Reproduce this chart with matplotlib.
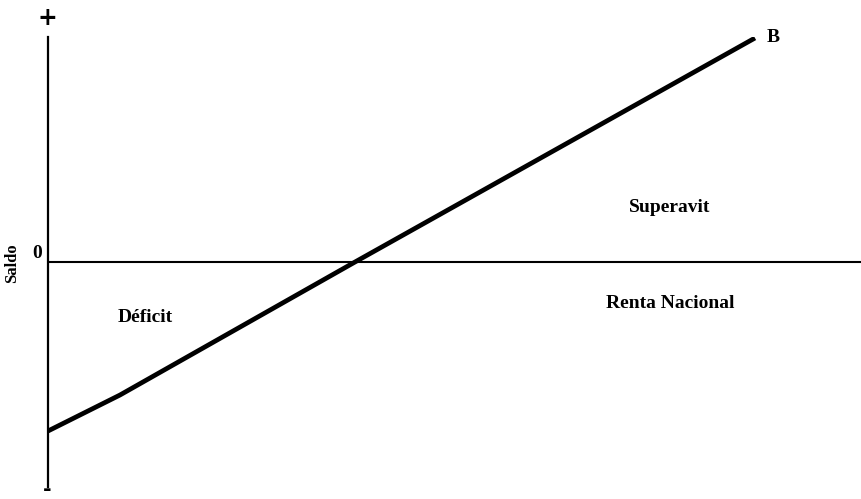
import matplotlib.pyplot as plt

# Curve B: renta nacional vs saldo (arbitrary units)
renta = [0, 72, 307, 707]
saldo = [-169, -133, 0, 224]

labels_region = ['Superavit', 'Renta Nacional', 'Déficit']

W, H = 861, 499
fig = plt.figure(figsize=(W / 100, H / 100), dpi=100)
ax = fig.add_axes([48 / W, 12 / H, 1 - 48 / W, 450 / H])
ax.set_xlim(0, 813)
ax.set_ylim(-225, 225)

font = {'family': 'Liberation Serif', 'weight': 'bold'}

ax.plot(renta, saldo, color='black', linewidth=3.4, solid_capstyle='butt')
ax.axhline(0, color='black', linewidth=1.5)

for s in ['top', 'right', 'bottom']:
    ax.spines[s].set_visible(False)
ax.spines['left'].set_linewidth(1.6)
ax.set_xticks([])
ax.set_yticks([])

ax.text(622, 55, labels_region[0], ha='center', va='center', fontsize=14, **font)
ax.text(622, -42, labels_region[1], ha='center', va='center', fontsize=14, **font)
ax.text(97, -55, labels_region[2], ha='center', va='center', fontsize=14, **font)
ax.text(725, 224, 'B', ha='center', va='center', fontsize=14, **font)
ax.text(-11, 8, '0', ha='center', va='center', fontsize=14, clip_on=False, **font)
ax.text(-36, -1, 'Saldo', ha='center', va='center', rotation=90, fontsize=12,
        clip_on=False, **font)
ax.text(-1, 244, '+', ha='center', va='center', fontsize=17, clip_on=False,
        family='DejaVu Sans', weight='bold')
ax.text(-1, -228, '-', ha='center', va='center', fontsize=15, clip_on=False,
        family='DejaVu Sans', weight='bold')

fig.savefig('out.png', dpi=100)
